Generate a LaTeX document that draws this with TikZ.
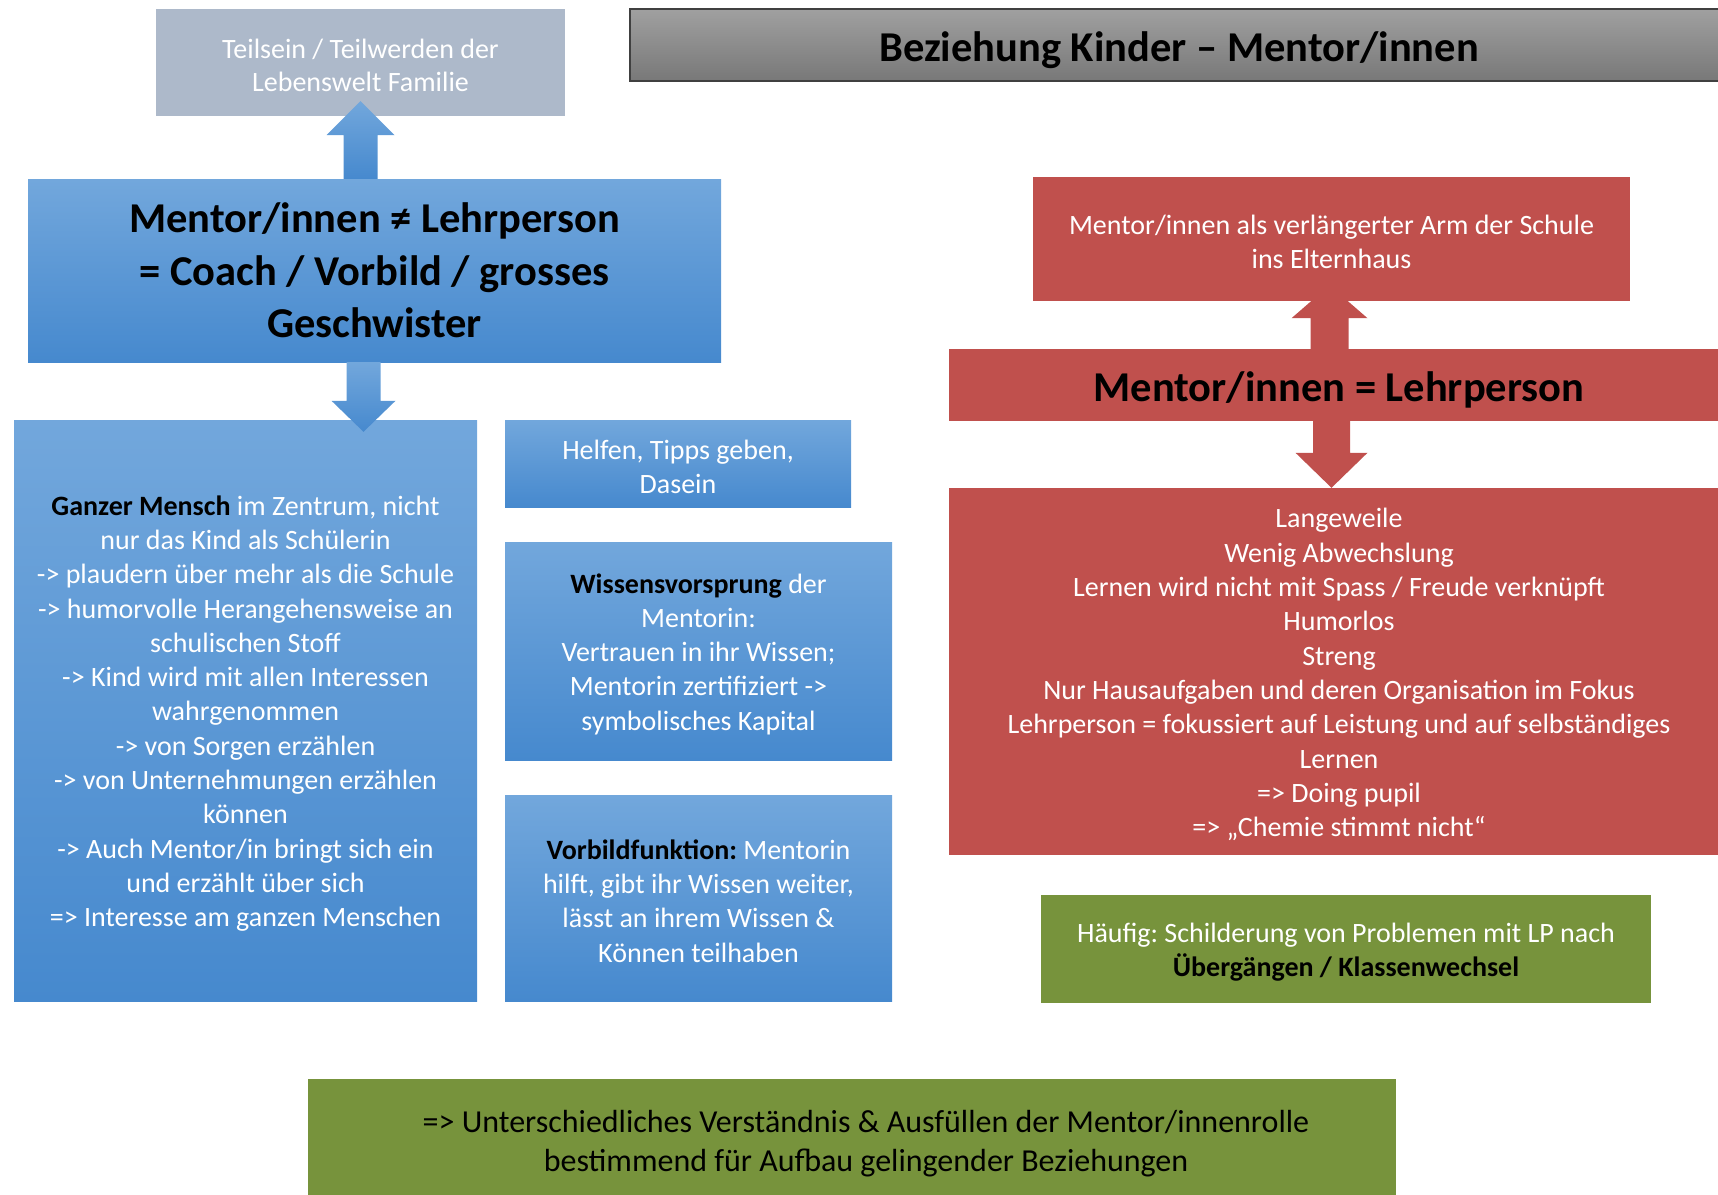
\documentclass[tikz,border=0pt]{standalone}
\usepackage{fontspec}
\setmainfont{Carlito}
\usetikzlibrary{calc, backgrounds}
\frenchspacing

\definecolor{famgray}{RGB}{173,185,202}
\definecolor{bluetop}{RGB}{114,167,220}
\definecolor{bluebot}{RGB}{70,137,206}
\definecolor{redfill}{RGB}{192,80,77}
\definecolor{greenfill}{RGB}{119,147,60}
\definecolor{titletop}{RGB}{160,160,160}
\definecolor{titlebot}{RGB}{120,120,120}

% block arrow: style, base, tip, half shaft, half head, head length (signed)
\newcommand{\blockarrow}[6]{%
  \path[#1] ($(#2)+(-#4,0)$) -- ($(#3)+(-#4,#6)$) -- ($(#3)+(-#5,#6)$) -- (#3)
    -- ($(#3)+(#5,#6)$) -- ($(#3)+(#4,#6)$) -- ($(#2)+(#4,0)$) -- cycle;}

\begin{document}
\begin{tikzpicture}[x=1pt, y=-1pt, font=\fontsize{28}{34.3}\selectfont]
  \tikzstyle{box}=[inner sep=0pt, align=flush center, text=white]
  \tikzstyle{textbox}=[text width=#1, execute at begin node={\rule{0pt}{0.92em}}]
  \tikzstyle{bluebox}=[box, top color=bluetop, bottom color=bluebot]
  \tikzstyle{redbox}=[box, fill=redfill]
  \tikzstyle{greenbox}=[box, fill=greenfill]
  \tikzstyle{headline}=[font=\fontsize{42.5}{52.6}\selectfont\bfseries, text=black,
                        execute at begin node={\rule{0pt}{0.95em}}]
  \tikzstyle{bluearrow}=[top color=bluetop, bottom color=bluebot]
  \tikzstyle{redarrow}=[fill=redfill]

  \useasboundingbox (0,0) rectangle (1718,1194);

  % left side
  \node[box, fill=famgray, textbox=409pt, minimum height=107pt,
        font=\fontsize{28}{33}\selectfont] (famb) at (360.5,62.5)
    {Teilsein / Teilwerden der\\Lebenswelt Familie};
  \node[bluebox, headline, minimum width=693pt, minimum height=183pt] (mentor) at (374.5,270.5)
    {Mentor/innen ≠ Lehrperson\\= Coach / Vorbild / grosses\\Geschwister};
  \node[bluebox, textbox=463pt, minimum height=581pt] (mensch) at (245.5,710.5)
    {\textcolor{black}{\bfseries Ganzer Mensch} im Zentrum, nicht\\nur das Kind als Schülerin\\
     -> plaudern über mehr als die Schule\\-> humorvolle Herangehensweise an\\
     schulischen Stoff\\-> Kind wird mit allen Interessen\\wahrgenommen\\
     -> von Sorgen erzählen\\-> von Unternehmungen erzählen\\können\\
     -> Auch Mentor/in bringt sich ein\\und erzählt über sich\\
     => Interesse am ganzen Menschen};
  \node[bluebox, textbox=346pt, minimum height=87pt] (helfen) at (678,463.5)
    {Helfen, Tipps geben,\\Dasein};
  \node[bluebox, textbox=387pt, minimum height=218pt] (wissen) at (698.5,651)
    {\textcolor{black}{\bfseries Wissensvorsprung} der\\Mentorin:\\Vertrauen in ihr Wissen;\\
     Mentorin zertifiziert ->\\symbolisches Kapital};
  \node[bluebox, textbox=387pt, minimum height=206pt] (vorbild) at (698.5,898)
    {\textcolor{black}{\bfseries Vorbildfunktion:} Mentorin\\hilft, gibt ihr Wissen weiter,\\
     lässt an ihrem Wissen \&\\Können teilhaben};

  % right side
  \node[box, headline, top color=titletop, bottom color=titlebot, draw=black!75, line width=1.5pt,
        minimum width=1098pt, minimum height=72pt] (title) at (1179,45)
    {Beziehung Kinder – Mentor/innen};
  \node[redbox, textbox=597pt, minimum height=124pt] (redtop) at (1331.5,239)
    {Mentor/innen als verlängerter Arm der Schule\\ins Elternhaus};
  \node[redbox, headline, minimum width=780pt, minimum height=72pt] (redmid) at (1339,385)
    {Mentor/innen = Lehrperson};
  \node[redbox, textbox=780pt, minimum height=367pt] (redbig) at (1339,671.5)
    {Langeweile\\Wenig Abwechslung\\Lernen wird nicht mit Spass / Freude verknüpft\\
     Humorlos\\Streng\\Nur Hausaufgaben und deren Organisation im Fokus\\
     Lehrperson = fokussiert auf Leistung und auf selbständiges\\Lernen\\
     => Doing pupil\\=> „Chemie stimmt nicht“};
  \node[greenbox, textbox=610pt, minimum height=108pt] (probleme) at (1346,949)
    {Häufig: Schilderung von Problemen mit LP nach\\
     \textcolor{black}{\bfseries Übergängen / Klassenwechsel}};

  % bottom
  \node[greenbox, text=black, textbox=1088pt, minimum height=122pt,
        font=\fontsize{32}{39.4}\selectfont] (fazit) at (852,1140)
    {\hspace*{28pt}=> Unterschiedliches Verständnis \& Ausfüllen der Mentor/innenrolle\\
     \hspace*{28pt}bestimmend für Aufbau gelingender Beziehungen};

  % arrows
  \coordinate (upA) at (famb.south |- mentor.north);
  \coordinate (upB) at ([yshift=15pt]famb.south);
  \blockarrow{bluearrow}{upA}{upB}{17}{34}{34}
  \coordinate (dnA) at ([xshift=-11pt]mentor.south);
  \coordinate (dnB) at ([yshift=-12pt]dnA |- mensch.north);
  \blockarrow{bluearrow}{dnA}{dnB}{17}{32}{-31}
  \begin{scope}[on background layer]
    \coordinate (ruA) at ([xshift=-2pt]redtop.south |- redmid.north);
    \coordinate (ruB) at ([xshift=-2pt, yshift=16pt]redtop.south);
    \blockarrow{redarrow}{ruA}{ruB}{19}{38}{33}
  \end{scope}
  \coordinate (rdA) at (redtop.south |- redmid.south);
  \coordinate (rdB) at (redtop.south |- redbig.north);
  \blockarrow{redarrow}{rdA}{rdB}{18.5}{36}{-35}
\end{tikzpicture}
\end{document}
